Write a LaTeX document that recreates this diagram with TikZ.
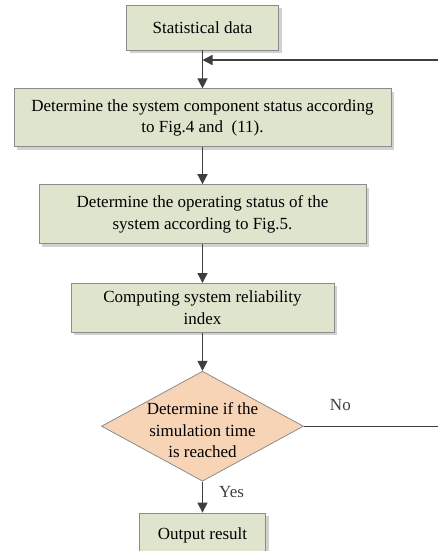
\documentclass[tikz,border=0pt]{standalone}
\usepackage{fontspec}
\setmainfont{Liberation Serif}
\usepackage{tikz}
\usetikzlibrary{positioning}
\usetikzlibrary{shapes.geometric}
\usetikzlibrary{shadows}
\usetikzlibrary{arrows.meta}
\definecolor{boxfill}{RGB}{223,228,205}
\definecolor{decfill}{RGB}{248,212,182}
\definecolor{edgegray}{RGB}{140,140,140}
\definecolor{linegray}{RGB}{62,62,62}
\tikzset{
  flow/.style={
    procbox/.style={rectangle, draw=edgegray, line width=0.8pt, fill=boxfill,
        align=center, inner sep=0pt,
        drop shadow={shadow xshift=3pt, shadow yshift=-3pt, fill=black!18, opacity=1}},
    decision/.style={diamond, draw=edgegray, line width=0.8pt, fill=decfill, inner sep=0pt},
    decision text/.style={align=center, inner sep=0pt},
    flowline/.style={linegray, line width=1.4pt, -{Triangle[length=10pt,width=10pt]}},
    edge label/.style={inner sep=0pt},
  }
}

\begin{document}
\begin{tikzpicture}
[
    flow,
    x=1pt, y=-1pt,
    node distance=38pt,
    font=\fontsize{17}{21.5}\selectfont
]
    \useasboundingbox (0,0) rectangle (437,551);

    \node[procbox, minimum width=152pt, minimum height=45pt] (stat) at (202.5,27.5) {Statistical data};
    \node[procbox, minimum width=377pt, minimum height=58pt, below=38pt of stat] (comp)
        {Determine the system component status according\\to Fig.4 and~~(11).};
    \node[procbox, minimum width=327pt, minimum height=59pt, below=37pt of comp] (oper)
        {Determine the operating status of the\\system according to Fig.5.};
    \node[procbox, minimum width=263pt, minimum height=49pt, below=39pt of oper] (rel)
        {Computing system reliability\\index};
    \node[decision, minimum width=202pt, minimum height=110pt, below=38pt of rel] (dec) {};
    \node[decision text, yshift=-4pt] (dectext) at (dec) {Determine if the\\simulation time\\is reached};
    \node[procbox, minimum width=126pt, minimum height=45pt, below=31pt of dec] (out) {Output result};

    \coordinate (merge) at (stat.south |- 0,60);
    \coordinate (back) at (439,0 |- dec.east);

    \draw[flowline, -] (stat) -- (merge);
    \draw[flowline] (merge) -- (comp);
    \draw[flowline] (comp) -- (oper);
    \draw[flowline] (oper) -- (rel);
    \draw[flowline] (rel) -- (dec);
    \draw[flowline] (dec) -- node[edge label, right=16pt, pos=0.35] {Yes} (out);
    \draw[flowline] (dec.east) -- node[edge label, above=15pt, pos=0.27] {No} (back) |- (merge);
\end{tikzpicture}
\end{document}
